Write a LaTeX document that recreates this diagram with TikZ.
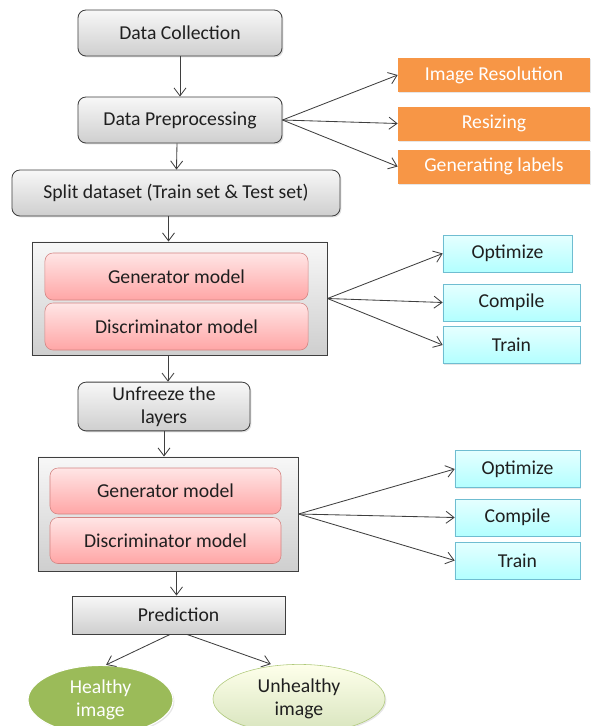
\documentclass[tikz,border=0pt]{standalone}
\usepackage{fontspec}
\setmainfont{Carlito}
\usetikzlibrary{shapes.geometric, arrows, arrows.meta, shadows}
\definecolor{boxline}{HTML}{3F3F3F}
\definecolor{textgrey}{HTML}{1F1F1F}
\definecolor{pinkline}{HTML}{C0504D}
\definecolor{orangefill}{HTML}{F79646}
\definecolor{cyanline}{HTML}{4BACC6}
\definecolor{greenfill}{HTML}{9BBB59}
\tikzstyle{process} = [rectangle, rounded corners=2mm, text centered, draw=boxline, semithick, top color=gray!6, bottom color=gray!38, text=textgrey, drop shadow={opacity=0.25, shadow xshift=1pt, shadow yshift=-1pt}, font=\fontsize{14}{16}\selectfont]
\tikzstyle{plain} = [rectangle, text centered, draw=boxline, semithick, top color=gray!6, bottom color=gray!38, text=textgrey, drop shadow={opacity=0.25, shadow xshift=1pt, shadow yshift=-1pt}, font=\fontsize{14}{16}\selectfont]
\tikzstyle{gan} = [rectangle, rounded corners=2mm, text centered, draw=pinkline!70, top color=red!10, bottom color=red!35, text=textgrey, font=\fontsize{14}{16}\selectfont]
\tikzstyle{prep} = [rectangle, minimum width=4.8cm, minimum height=0.85cm, text centered, fill=orangefill, text=white, drop shadow={opacity=0.2, shadow xshift=1pt, shadow yshift=-1pt}, font=\fontsize{14}{16}\selectfont]
\tikzstyle{task} = [rectangle, minimum height=0.925cm, text centered, draw=cyanline!80, top color=cyan!10, bottom color=cyan!30, text=textgrey, drop shadow={opacity=0.2, shadow xshift=1pt, shadow yshift=-1pt}, font=\fontsize{14}{16}\selectfont]
\tikzstyle{arrow} = [semithick, draw=boxline, -{Straight Barb[length=2mm, width=3mm]}]

\begin{document}
\begin{tikzpicture}[x=0.025cm, y=-0.025cm]
    \useasboundingbox (0,0) rectangle (595,726);
    % main flow
    \node (collect) [process, minimum width=5.1cm, minimum height=1.15cm] at (180,33) {Data Collection};
    \node (preproc) [process, minimum width=5.1cm, minimum height=1.15cm] at (180,120) {Data Preprocessing};
    \node (split) [process, minimum width=8.2cm, minimum height=1.15cm] at (176,193) {Split dataset (Train set \& Test set)};
    \node (stage1) [plain, minimum width=7.375cm, minimum height=2.825cm] at (179.5,298.5) {};
    \node (gen1) [gan, minimum width=6.575cm, minimum height=1.175cm] at (176.5,276.5) {Generator model};
    \node (dis1) [gan, minimum width=6.575cm, minimum height=1.175cm] at (176.5,326.5) {Discriminator model};
    \node (unfreeze) [process, minimum width=4.3cm, minimum height=1.175cm, align=center] at (164,406.5) {Unfreeze the\\layers};
    \node (stage2) [plain, minimum width=6.5cm, minimum height=2.85cm] at (168,514) {};
    \node (gen2) [gan, minimum width=5.775cm, minimum height=1.15cm] at (165.5,491) {Generator model};
    \node (dis2) [gan, minimum width=5.775cm, minimum height=1.15cm] at (165.5,540.5) {Discriminator model};
    \node (predict) [plain, minimum width=5.325cm, minimum height=0.95cm] at (178.5,615) {Prediction};
    \node (healthy) [ellipse, minimum width=3.625cm, minimum height=1.4cm, fill=greenfill, draw=white, thick, text=white, align=center, font=\fontsize{14}{16}\selectfont, drop shadow={opacity=0.2, shadow xshift=1pt, shadow yshift=-1pt}] at (100.5,700) {Healthy\\image};
    \node (unhealthy) [ellipse, minimum width=4.3cm, minimum height=1.4cm, draw=greenfill!80, top color=green!5!yellow!8, bottom color=greenfill!40, text=textgrey, align=center, font=\fontsize{14}{16}\selectfont, drop shadow={opacity=0.2, shadow xshift=1pt, shadow yshift=-1pt}] at (299,699) {Unhealthy\\image};

    % preprocessing steps
    \node (resol) [prep] at (494,75) {Image Resolution};
    \node (resize) [prep] at (494,123.5) {Resizing};
    \node (labels) [prep] at (494,166.5) {Generating labels};

    % training steps
    \node (opt1) [task, minimum width=3.225cm] at (507.5,253.5) {Optimize};
    \node (comp1) [task, minimum width=3.425cm] at (511.5,302.5) {Compile};
    \node (train1) [task, minimum width=3.425cm] at (511.5,345) {Train};
    \node (opt2) [task, minimum width=3.125cm] at (517.5,469) {Optimize};
    \node (comp2) [task, minimum width=3.125cm] at (517.5,517.5) {Compile};
    \node (train2) [task, minimum width=3.125cm] at (517.5,560.5) {Train};

    \draw [arrow] (collect) -- (preproc);
    \draw [arrow] (preproc.south -| split) ++(1,0) -- (split);
    \draw [arrow] (split.south -| stage1.north) ++(-11,0) coordinate (s1) -- (s1 |- stage1.north);
    \draw [arrow] (stage1.south -| unfreeze.north) ++(4,0) coordinate (u1) -- (u1 |- unfreeze.north);
    \draw [arrow] (unfreeze.south) -- (unfreeze.south |- stage2.north);
    \draw [arrow] (stage2.south -| predict.north) ++(-2,0) coordinate (p1) -- (p1 |- predict.north);

    \draw [arrow] (preproc.east) -- (resol.west);
    \draw [arrow] (preproc.east) -- (resize.west);
    \draw [arrow] (preproc.east) -- (labels.west);
    \draw [arrow] (stage1.east) -- (opt1.west);
    \draw [arrow] (stage1.east) -- (comp1.west);
    \draw [arrow] (stage1.east) -- (train1.west);
    \draw [arrow] (stage2.east) -- (opt2.west);
    \draw [arrow] (stage2.east) -- (comp2.west);
    \draw [arrow] (stage2.east) -- (train2.west);

    \draw [arrow] ([xshift=-6pt]predict.south) -- ([xshift=4pt]healthy.north);
    \draw [arrow] ([xshift=6pt]predict.south) -- ([xshift=-20pt]unhealthy.north);
\end{tikzpicture}
\end{document}
